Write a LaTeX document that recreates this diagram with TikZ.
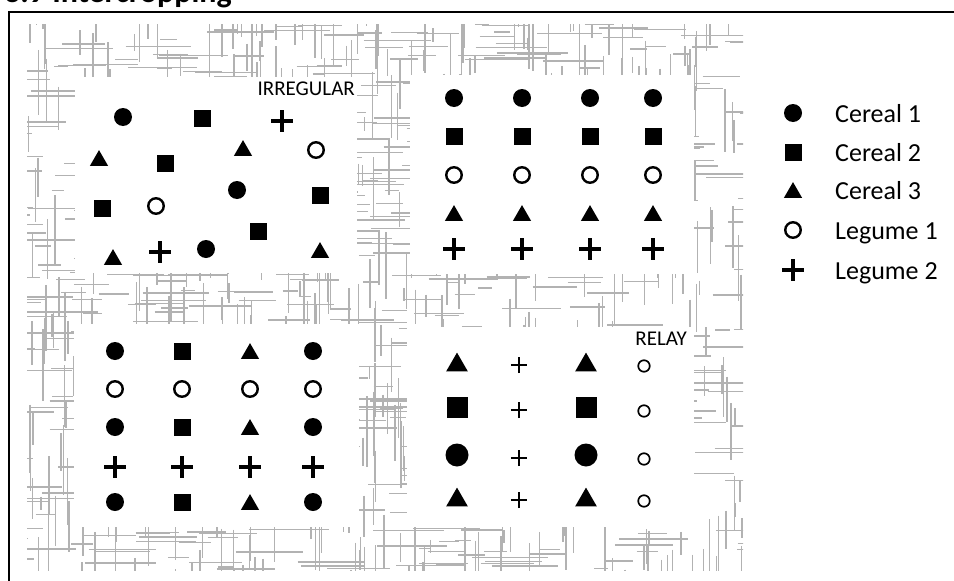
\documentclass[tikz,border=0pt]{standalone}
\usepackage{fontspec}
\setmainfont{Carlito}
\usetikzlibrary{shapes.geometric,shapes.misc}

\begin{document}
\begin{tikzpicture}[x=1pt,y=-1pt,
  every node/.style={inner sep=0pt},
  hatch/.style={draw=black!30, line width=1.4pt},
  field/.style={fill=white},
  cerone/.style={circle, fill=black, minimum size=18pt},
  certwo/.style={rectangle, fill=black, minimum size=17pt},
  certhree/.style={regular polygon, regular polygon sides=3, fill=black, minimum size=21pt, yshift=-2.6pt},
  legone/.style={circle, draw=black, line width=2.4pt, minimum size=15.5pt},
  legtwo/.style={cross out, draw=black, rotate=45, line width=3.4pt, minimum size=11.5pt},
  bigone/.style={cerone, minimum size=23pt},
  bigtwo/.style={certwo, minimum size=21pt},
  bigthree/.style={certhree, minimum size=25pt, yshift=-0.5pt},
  smallone/.style={circle, draw=black, line width=1.7pt, minimum size=11.5pt},
  smalltwo/.style={cross out, draw=black, rotate=45, line width=2.6pt, minimum size=9pt},
  plotname/.style={font=\fontsize{21}{24}\selectfont, anchor=base east},
  key/.style={font=\fontsize{26}{30}\selectfont, anchor=base west}
]
\useasboundingbox (0,0) rectangle (954,581);

% title, cut off at the top
\node[font=\fontsize{32}{36}\selectfont\bfseries, anchor=base west] (title) at (4,2) {3.9 Intercropping};
\draw[line width=1.3pt] (9,581) -- (9,12) -- (954,12);

% hedge texture
\pgfmathsetseed{7}
\begin{scope}
\clip (27,24) rectangle (743,570);
\foreach \i in {1,...,1400}{
  \pgfmathsetmacro\hx{-33+776*rnd}
  \pgfmathsetmacro\hy{-36+606*rnd}
  \pgfmathsetmacro\hl{12+60*rnd}
  \pgfmathsetmacro\hd{rnd}
  \ifdim\hd pt<0.5pt
    \draw[hatch] (\hx,\hy) -- ++(\hl,0);
  \else
    \draw[hatch] (\hx,\hy) -- ++(0,\hl);
  \fi
}
\end{scope}

% the four fields
\fill[field] (75,77) rectangle (357,273);
\fill[field] (410,75) rectangle (694,274);
\fill[field] (74,324) rectangle (359,527);
\fill[field] (407,327) rectangle (694,527);

% irregular
\node[plotname] (irrname) at (355,95) {IRREGULAR};
\foreach \sty/\px/\py [count=\k] in {cerone/123/117, certwo/202/118, legtwo/282/121,
    certhree/99/158, certwo/165/163, certhree/243/148, legone/316/150,
    cerone/237/190, certwo/320/195, certwo/102/208, legone/156/206,
    certwo/258/231, certhree/113/257, legtwo/160/252, cerone/206/249, certhree/320/250}
  \node[\sty] (irr\k) at (\px,\py) {};

% row intercropping
\foreach \cx [count=\c] in {454,522,590,653}{
  \node[cerone] (rowa\c) at (\cx,98) {};
  \node[certwo] (rowb\c) at (\cx,136) {};
  \node[legone] (rowc\c) at (\cx,175) {};
  \node[certhree] (rowd\c) at (\cx,213) {};
  \node[legtwo] (rowe\c) at (\cx,249) {};
}

% mixed rows
\foreach \cx/\sty [count=\c] in {115/cerone,182/certwo,250/certhree,313/cerone}{
  \node[\sty] (mixa\c) at (\cx,351) {};
  \node[legone] (mixb\c) at (\cx,389) {};
  \node[\sty] (mixc\c) at (\cx,427) {};
  \node[legtwo] (mixd\c) at (\cx,467) {};
  \node[\sty] (mixe\c) at (\cx,502) {};
}

% relay
\node[plotname] (relname) at (687,345) {RELAY};
\foreach \ry/\sty [count=\r] in {362/bigthree,407/bigtwo,455/bigone,497/bigthree}{
  \node[\sty] (rela\r) at (457,\ry) {};
  \node[smalltwo] (relb\r) at (519,\ry+3) {};
  \node[\sty] (relc\r) at (586,\ry) {};
  \node[smallone] (reld\r) at (644,\ry+4) {};
}

% legend
\foreach \sty/\txt/\ly [count=\k] in {cerone/Cereal 1/113, certwo/Cereal 2/152,
    certhree/Cereal 3/190, legone/Legume 1/230, legtwo/Legume 2/270}{
  \node[\sty] (keys\k) at (793,\ly) {};
  \node[key] (keyt\k) at (835,\ly+9) {\txt};
}
\end{tikzpicture}
\end{document}
